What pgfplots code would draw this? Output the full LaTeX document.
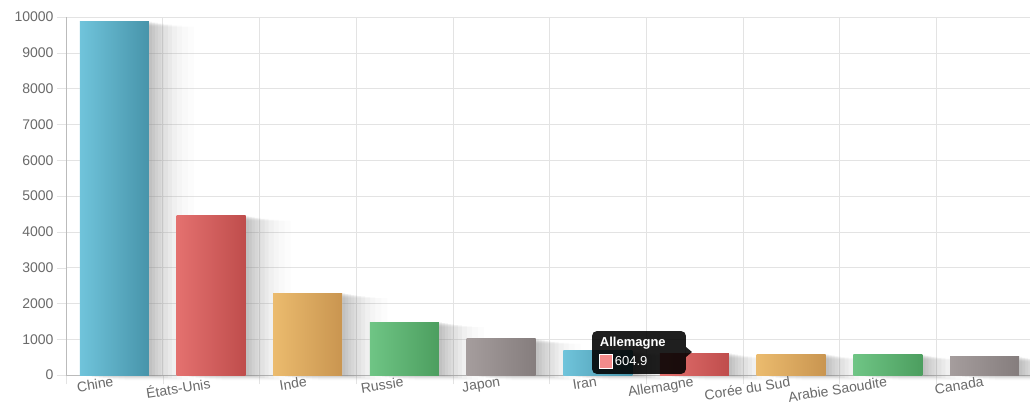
\documentclass[border=0pt]{standalone}
\usepackage{pgfplots}
\pgfplotsset{compat=1.18}
\usepackage{fontspec}
\setmainfont{Liberation Sans}
\usetikzlibrary{shadows}
\definecolor{bL}{HTML}{70C4DB}\definecolor{bD}{HTML}{4794AA}
\definecolor{rL}{HTML}{E4716F}\definecolor{rD}{HTML}{BF4D4C}
\definecolor{oL}{HTML}{EBBB6E}\definecolor{oD}{HTML}{C99550}
\definecolor{gL}{HTML}{6FC585}\definecolor{gD}{HTML}{4C9E5F}
\definecolor{yL}{HTML}{A59D9D}\definecolor{yD}{HTML}{857D7D}
\definecolor{gridc}{HTML}{E3E3E3}
\definecolor{axc}{HTML}{BBBBBB}
\definecolor{txt}{HTML}{6A6A6A}
\tikzset{
  shd/.style={draw=none, fill=white,
    drop shadow={shadow xshift=3bp, shadow yshift=0bp, opacity=0.08},
    drop shadow={shadow xshift=6bp, shadow yshift=-1bp, opacity=0.08},
    drop shadow={shadow xshift=9bp, shadow yshift=-1bp, opacity=0.07},
    drop shadow={shadow xshift=12bp, shadow yshift=-2bp, opacity=0.07},
    drop shadow={shadow xshift=15bp, shadow yshift=-2bp, opacity=0.06},
    drop shadow={shadow xshift=19bp, shadow yshift=-3bp, opacity=0.06},
    drop shadow={shadow xshift=23bp, shadow yshift=-3bp, opacity=0.05},
    drop shadow={shadow xshift=28bp, shadow yshift=-4bp, opacity=0.04},
    drop shadow={shadow xshift=33bp, shadow yshift=-4bp, opacity=0.03},
    drop shadow={shadow xshift=39bp, shadow yshift=-5bp, opacity=0.025},
    drop shadow={shadow xshift=45bp, shadow yshift=-5bp, opacity=0.02}},
  lbl/.style={font=\fontsize{14bp}{16bp}\selectfont, text=txt},
}
\begin{document}
\begin{tikzpicture}
\useasboundingbox[fill=white] (-66bp,-32bp) rectangle (964bp,375bp);
\begin{axis}[
  at={(0,0)}, anchor=south west,
  scale only axis, width=964bp, height=358bp,
  xmin=-0.5, xmax=9.47, ymin=0, ymax=10000,
  ybar, bar width=69bp, bar shift=0pt,
  axis lines=left, axis line style={-, draw=axc},
  tick align=outside, major tick length=9bp,
  tick style={draw=gridc},
  xtick={-0.5,0.5,...,9.5}, xticklabels={},
  xmajorgrids, ymajorgrids,
  grid style={draw=gridc},
  ytick={0,1000,...,10000},
  scaled y ticks=false,
  yticklabel style={/pgf/number format/fixed, /pgf/number format/1000 sep={}, /tikz/lbl},
  /pgf/number format/assume math mode=true,
  extra x ticks={0,...,9},
  extra x tick labels={Chine,États-Unis,Inde,Russie,Japon,Iran,Allemagne,Corée du Sud,Arabie Saoudite,Canada},
  extra x tick style={grid=none, major tick length=0pt,
     xticklabel style={rotate=9, anchor=north east, /tikz/lbl, inner sep=2bp, yshift=1bp}},
  clip=false,
]
% shadows
\addplot[shd] coordinates {(0,9870) (1,4445) (2,2290) (3,1475) (4,1010) (5,675) (6,604.9) (7,575) (8,565) (9,508)};
% bars
\addplot[draw=none, left color=bL, right color=bD] coordinates {(0,9870)};
\addplot[draw=none, left color=rL, right color=rD] coordinates {(1,4445)};
\addplot[draw=none, left color=oL, right color=oD] coordinates {(2,2290)};
\addplot[draw=none, left color=gL, right color=gD] coordinates {(3,1475)};
\addplot[draw=none, left color=yL, right color=yD] coordinates {(4,1010)};
\addplot[draw=none, left color=bL, right color=bD] coordinates {(5,675)};
\addplot[draw=none, left color=rL, right color=rD] coordinates {(6,604.9)};
\addplot[draw=none, left color=oL, right color=oD] coordinates {(7,575)};
\addplot[draw=none, left color=gL, right color=gD] coordinates {(8,565)};
\addplot[draw=none, left color=yL, right color=yD] coordinates {(9,508)};
% tooltip
\fill[black, fill opacity=0.88, rounded corners=5bp]
  (axis cs:4.94,28) rectangle (axis cs:5.912,1229);
\fill[black, fill opacity=0.88] (axis cs:5.912,502) -- (axis cs:5.974,642) -- (axis cs:5.912,782) -- cycle;
\node[anchor=west, text=white, font=\bfseries\fontsize{13bp}{15bp}\selectfont, inner sep=0pt] at (axis cs:5.02,894) {Allemagne};
\draw[white, fill={rgb,255:red,242;green,139;blue,139}, line width=1bp] (axis cs:5.02,195) rectangle (axis cs:5.155,560);
\node[anchor=west, text=white, font=\fontsize{13bp}{15bp}\selectfont, inner sep=0pt] at (axis cs:5.175,391) {604.9};
\end{axis}
\end{tikzpicture}
\end{document}
